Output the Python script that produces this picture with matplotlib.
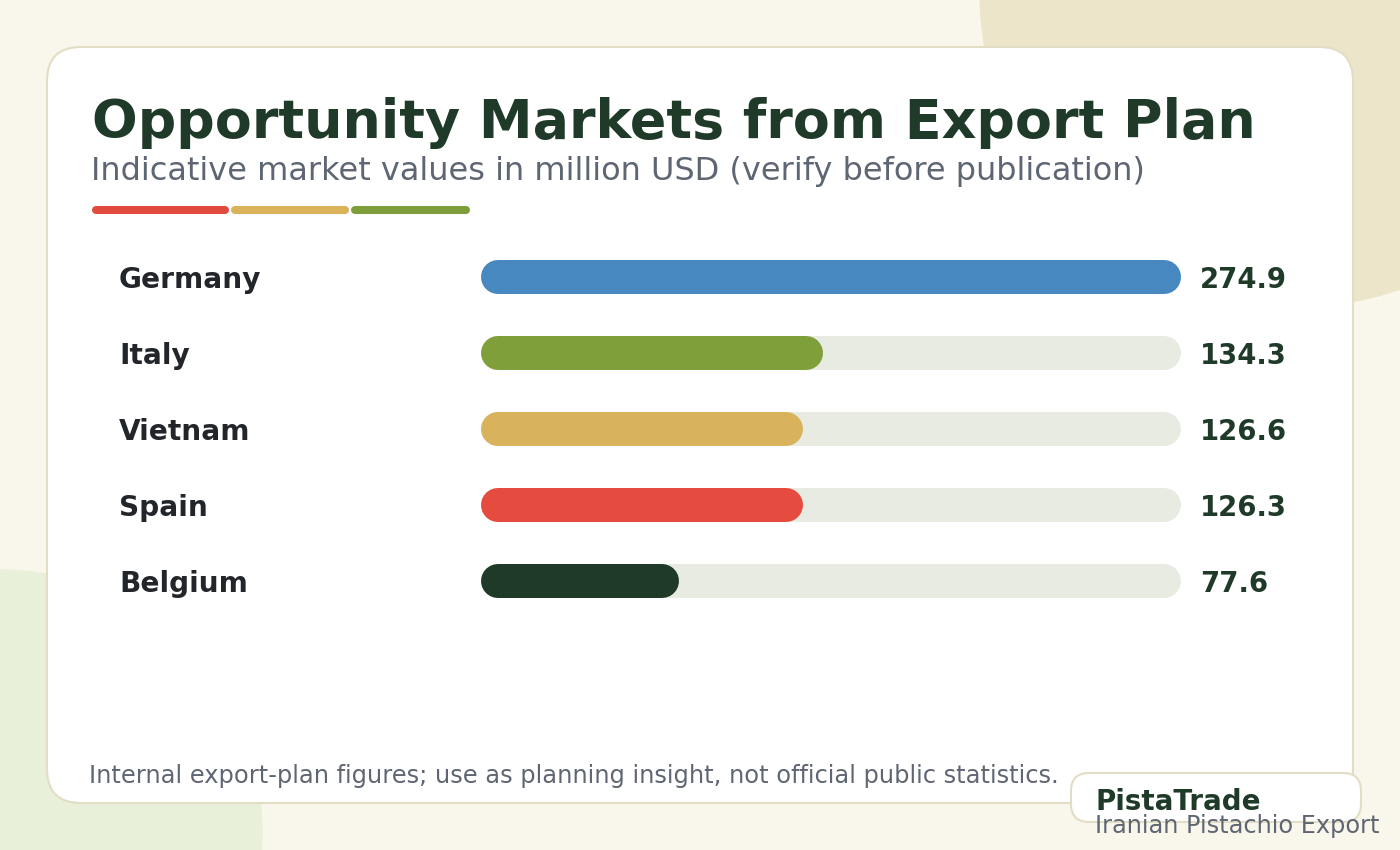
import matplotlib
matplotlib.use("Agg")
import matplotlib.pyplot as plt
from matplotlib.patches import FancyBboxPatch, Circle
import matplotlib.transforms as mtransforms

plt.rcParams["font.family"] = "DejaVu Sans"

# data
countries = ["Germany", "Italy", "Vietnam", "Spain", "Belgium"]
values = [274.9, 134.3, 126.6, 126.3, 77.6]
value_labels = ["274.9", "134.3", "126.6", "126.3", "77.6"]
bar_colors = ["#4788c0", "#7f9f3b", "#d9b35b", "#e54b3f", "#1f3a28"]
accent_colors = ["#e04b3e", "#d9b25a", "#7e9e3b"]

title = "Opportunity Markets from Export Plan"
subtitle = "Indicative market values in million USD (verify before publication)"
footnote = "Internal export-plan figures; use as planning insight, not official public statistics."
brand = "PistaTrade"
brand_sub = "Iranian Pistachio Export"

W, H = 1400, 850
DARK = "#1f3a28"
GREY = "#5f6673"
BORDER = "#e2dec6"

fig = plt.figure(figsize=(14, 8.5), dpi=100)
fig.patch.set_facecolor("#f9f7ec")


def fx(px):
    return px / W


def fy(py):
    return 1 - py / H


# background decoration, pixel coords
bg = fig.add_axes([0, 0, 1, 1])
bg.set_xlim(0, W)
bg.set_ylim(H, 0)
bg.axis("off")
bg.add_patch(Circle((1295, -8), 315, color="#ede5c9", zorder=0))
bg.add_patch(Circle((0, 832), 262, color="#e9f0d9", zorder=0))
bg.add_patch(FancyBboxPatch((47, 47), 1306, 756, boxstyle="round,pad=0,rounding_size=34",
                            fc="white", ec=BORDER, lw=1.5, zorder=1))

# accent underline
seg_x = [(96, 225), (235, 345), (355, 466)]
for (a, b), c in zip(seg_x, accent_colors):
    bg.plot([a, b], [210, 210], color=c, lw=5.8, solid_capstyle="round", zorder=2)

# logo box
bg.add_patch(FancyBboxPatch((1071, 773), 290, 49, boxstyle="round,pad=0,rounding_size=18",
                            fc="white", ec=BORDER, lw=1.5, zorder=3))

fig.text(fx(92), fy(138), title, fontsize=38.8, fontweight="bold", color=DARK, va="baseline")
fig.text(fx(91), fy(180), subtitle, fontsize=23, color=GREY, va="baseline")
fig.text(fx(89), fy(783), footnote, fontsize=17.35, color=GREY, va="baseline")
fig.text(fx(1095), fy(810), brand, fontsize=20, fontweight="bold", color=DARK, va="baseline", zorder=5)
fig.text(fx(1095), fy(833), brand_sub, fontsize=17.3, color=GREY, va="baseline", zorder=5)

# bars
ax = fig.add_axes([fx(481), fy(619), 700 / W, 380 / H])
ax.set_facecolor("none")
n = len(countries)
ypos = list(range(n))
vmax = max(values)
ax.set_xlim(0, vmax)
ax.set_ylim(n - 0.5, -0.5)
ax.axis("off")

bar_px = 34
bar_h = bar_px / 76
track = ax.barh(ypos, [vmax] * n, height=bar_h, color="#e8ebe2")
bars = ax.barh(ypos, values, height=bar_h, color=bar_colors)

# swap rectangles for pills: thick lines with round caps
cap = (bar_px / 2) * vmax / 700   # half bar height in x units
lw_pt = bar_px * 72 / 100


def pill(container, z):
    for p in container:
        x, w = p.get_x(), p.get_width()
        yc = p.get_y() + p.get_height() / 2
        ax.plot([x + cap, x + w - cap], [yc, yc], color=p.get_facecolor(), lw=lw_pt,
                solid_capstyle="round", zorder=z)
        p.remove()


pill(track, 1)
pill(bars, 2)

trans = mtransforms.blended_transform_factory(fig.transFigure, ax.transData)
for i in ypos:
    ax.text(fx(119), i, countries[i], transform=trans, ha="left", va="center_baseline",
            fontsize=20.2, fontweight="bold", color="#22262b")
    ax.text(fx(1200), i, value_labels[i], transform=trans, ha="left", va="center_baseline",
            fontsize=19.8, fontweight="bold", color=DARK)

fig.savefig("out.png", dpi=100, facecolor=fig.get_facecolor())
